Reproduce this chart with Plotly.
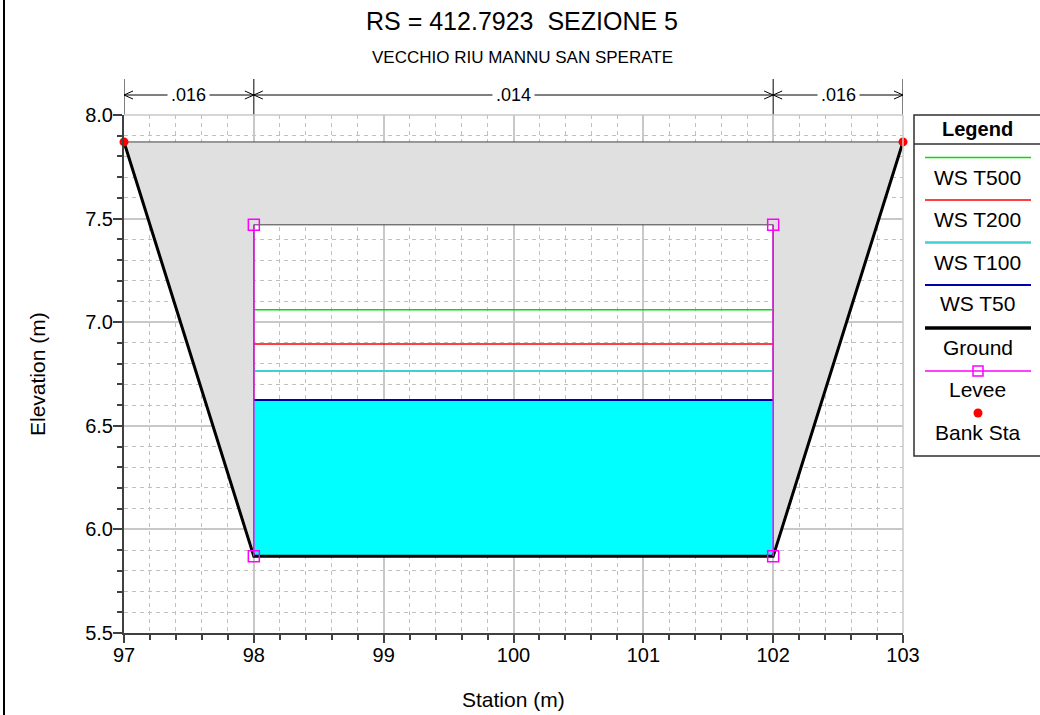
import plotly.graph_objects as go

# ---------------- data ----------------
ground_sta = [97, 98, 102, 103]
ground_elev = [7.87, 5.87, 5.87, 7.87]
levee_sta = [98, 102]
levee_top = [7.47, 7.47]
levee_bot = [5.87, 5.87]
bank_sta = [97, 103]
bank_elev = [7.87, 7.87]
ws_names = ["WS T500", "WS T200", "WS T100", "WS T50"]
ws_elev = [7.06, 6.895, 6.765, 6.625]
ws_colors = ["#00e000", "#ff0000", "#40d0d0", "#0000b0"]
ws_widths = [1.5, 1.5, 2, 2]
n_sta = [97, 98, 102, 103]
n_vals = [".016", ".014", ".016"]

FONT = "Arial, Liberation Sans, sans-serif"

# plot area in pixels (for layout helpers)
L, R, T, B = 124, 903, 115, 633
W, H = 1040, 715
def px(X):
    return (X - L) / (R - L)
def py(Y):
    return (B - Y) / (B - T)

fig = go.Figure()

# gray ineffective area (ground to bank elevation, outside the levees)
gx = [ground_sta[0], ground_sta[3], ground_sta[2], levee_sta[1], levee_sta[0], ground_sta[1], ground_sta[0]]
gy = [bank_elev[0], bank_elev[1], ground_elev[2], levee_top[1], levee_top[0], ground_elev[1], bank_elev[0]]
fig.add_trace(go.Scatter(x=gx, y=gy, mode="lines", fill="toself", fillcolor="#e0e0e0",
                         line=dict(color="#404040", width=1), hoverinfo="skip", showlegend=False))

# water fill for lowest profile
wl = ws_elev[-1]
fig.add_trace(go.Scatter(x=[levee_sta[0], levee_sta[1], levee_sta[1], levee_sta[0], levee_sta[0]],
                         y=[levee_bot[0], levee_bot[1], wl, wl, levee_bot[0]],
                         mode="lines", fill="toself", fillcolor="#00ffff",
                         line=dict(width=0, color="#00ffff"), hoverinfo="skip", showlegend=False))

# water surfaces
for name, e, c, w in zip(ws_names, ws_elev, ws_colors, ws_widths):
    fig.add_trace(go.Scatter(x=[levee_sta[0], levee_sta[1]], y=[e, e], mode="lines",
                             line=dict(color=c, width=w), name=name, showlegend=False))

# ground
fig.add_trace(go.Scatter(x=ground_sta, y=ground_elev, mode="lines",
                         line=dict(color="black", width=3), name="Ground", showlegend=False))

# levees
for s, t, b in zip(levee_sta, levee_top, levee_bot):
    fig.add_trace(go.Scatter(x=[s, s], y=[b, t], mode="lines+markers", cliponaxis=False,
                             line=dict(color="#ff00ff", width=1.5),
                             marker=dict(symbol="square-open", size=11, color="#ff00ff",
                                         line=dict(width=1.5, color="#ff00ff")),
                             name="Levee", showlegend=False))

# bank stations
fig.add_trace(go.Scatter(x=bank_sta, y=bank_elev, mode="markers", cliponaxis=False,
                         marker=dict(color="#ff0000", size=9), name="Bank Sta", showlegend=False))

shapes = []
annotations = []

def text(x, y, s, size, xref="paper", yref="paper", **kw):
    annotations.append(dict(x=x, y=y, xref=xref, yref=yref, text=s, showarrow=False,
                            xanchor="center", yanchor="middle",
                            font=dict(family=FONT, size=size, color="black"), **kw))

# Manning's n band
n_top, n_bot, n_mid = py(79), 1.0, py(95)
for s in n_sta:
    shapes.append(dict(type="line", xref="x", yref="paper", x0=s, x1=s, y0=n_bot, y1=n_top,
                       line=dict(color="black", width=1)))
adx = 9 / (R - L) * (n_sta[-1] - n_sta[0])
ady = 4 / (B - T)
for i, v in enumerate(n_vals):
    a, b = n_sta[i], n_sta[i + 1]
    shapes.append(dict(type="line", xref="x", yref="paper", x0=a, x1=b, y0=n_mid, y1=n_mid,
                       line=dict(color="black", width=1)))
    shapes.append(dict(type="path", xref="x", yref="paper",
                       path=f"M {a+adx},{n_mid+ady} L {a},{n_mid} L {a+adx},{n_mid-ady}",
                       line=dict(color="black", width=1)))
    shapes.append(dict(type="path", xref="x", yref="paper",
                       path=f"M {b-adx},{n_mid+ady} L {b},{n_mid} L {b-adx},{n_mid-ady}",
                       line=dict(color="black", width=1)))
    text((a + b) / 2, n_mid, v, 18, xref="x", bgcolor="white", borderpad=3)

# top and right edges of plot area
shapes.append(dict(type="line", xref="paper", yref="paper", x0=0, x1=1, y0=1, y1=1,
                   line=dict(color="#c8c8c8", width=1.5)))
shapes.append(dict(type="line", xref="paper", yref="paper", x0=1, x1=1, y0=0, y1=1,
                   line=dict(color="#c8c8c8", width=1.5)))

# figure left border
shapes.append(dict(type="line", xref="paper", yref="paper", x0=px(4), x1=px(4), y0=py(-5), y1=py(720),
                   line=dict(color="black", width=2)))

# legend box
shapes.append(dict(type="rect", xref="paper", yref="paper", x0=px(914), x1=px(1050), y0=py(456), y1=py(115),
                   line=dict(color="#303030", width=1.5), fillcolor="white", layer="above"))
shapes.append(dict(type="line", xref="paper", yref="paper", x0=px(914), x1=px(1050), y0=py(144), y1=py(144),
                   line=dict(color="#303030", width=1.5)))
lx0, lx1, lxc = px(925), px(1031), px(978)
text(lxc, py(129), "<b>Legend</b>", 20)
leg_items = ws_names + ["Ground", "Levee", "Bank Sta"]
leg_colors = ws_colors + ["black", "#ff00ff", "#ff0000"]
leg_widths = [1.5, 1.5, 2.5, 2, 3.5, 1.5, 0]
line_Y = [157.5, 200, 242.5, 285, 328, 371, 413]
text_Y = [177, 219, 262, 303, 347, 389, 432]
for name, c, w, ly, ty in zip(leg_items, leg_colors, leg_widths, line_Y, text_Y):
    if name == "Bank Sta":
        shapes.append(dict(type="circle", xref="paper", yref="paper", xsizemode="pixel", ysizemode="pixel",
                           xanchor=lxc, yanchor=py(ly), x0=-4.5, x1=4.5, y0=-4.5, y1=4.5,
                           fillcolor=c, line=dict(color=c, width=0), layer="above"))
    else:
        shapes.append(dict(type="line", xref="paper", yref="paper", x0=lx0, x1=lx1, y0=py(ly), y1=py(ly),
                           line=dict(color=c, width=w), layer="above"))
    if name == "Levee":
        shapes.append(dict(type="rect", xref="paper", yref="paper", xsizemode="pixel", ysizemode="pixel",
                           xanchor=lxc, yanchor=py(ly), x0=-5, x1=5, y0=-5, y1=5,
                           fillcolor="rgba(0,0,0,0)", line=dict(color=c, width=1.5), layer="above"))
    text(lxc, py(ty), name, 21)

# titles
text(px(522), py(21), "RS = 412.7923  SEZIONE 5", 25)
text(px(522), py(57), "VECCHIO RIU MANNU SAN SPERATE", 17)
text(0.5, py(699), "Station (m)", 21)
text(px(37), 0.5, "Elevation (m)", 21, textangle=-90)

grid_major = "#c8c8c8"
grid_minor = "#c0c0c0"
fig.update_layout(
    width=W, height=H,
    margin=dict(l=L, r=W - R, t=T, b=H - B),
    paper_bgcolor="white", plot_bgcolor="white",
    font=dict(family=FONT, size=20, color="black"),
    showlegend=False,
    shapes=shapes, annotations=annotations,
    xaxis=dict(range=[97, 103], tick0=97, dtick=1, showgrid=True, gridcolor=grid_major, gridwidth=1.5,
               ticks="outside", ticklen=8, tickcolor="#404040", tickwidth=1.5, ticklabelstandoff=-5,
               showline=True, linecolor="#404040", linewidth=2, zeroline=False,
               tickfont=dict(family=FONT, size=20, color="black"),
               minor=dict(dtick=0.2, tick0=97, showgrid=True, gridcolor=grid_minor, griddash="4px,4px", gridwidth=1,
                          ticks="outside", ticklen=5, tickcolor="#404040", tickwidth=1.5)),
    yaxis=dict(range=[5.5, 8.0], tick0=5.5, dtick=0.5, tickformat=".1f", showgrid=True, gridcolor=grid_major,
               gridwidth=1.5, ticks="outside", ticklen=9, tickcolor="#404040", tickwidth=1.5, ticklabelstandoff=-4,
               showline=True, linecolor="#404040", linewidth=2, zeroline=False,
               tickfont=dict(family=FONT, size=20, color="black"),
               minor=dict(dtick=0.1, tick0=5.5, showgrid=True, gridcolor=grid_minor, griddash="4px,4px", gridwidth=1,
                          ticks="outside", ticklen=5, tickcolor="#404040", tickwidth=1.5)),
)

fig.write_html("out.html", config={"displayModeBar": False},
               post_script="document.body.style.margin='0';document.body.style.overflow='hidden';")
